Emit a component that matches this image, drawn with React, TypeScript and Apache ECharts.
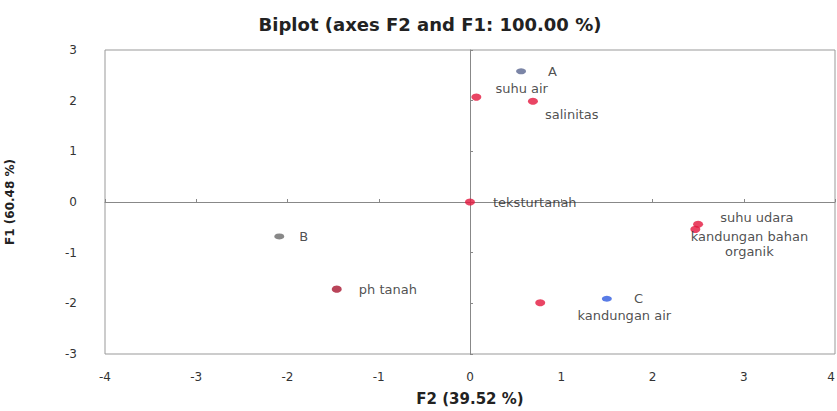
import React, { useEffect, useRef } from "react";
import * as echarts from "echarts";

const titleText = "Biplot (axes F2 and F1: 100.00 %)";
const xAxisName = "F2 (39.52 %)";
const yAxisName = "F1 (60.48 %)";

const obsNames = ["A", "B", "C"];
const obsF2 = [0.56, -2.09, 1.5];
const obsF1 = [2.58, -0.68, -1.91];

const varNames = ["suhu air", "salinitas", "teksturtanah", "ph tanah", "suhu udara", "kandungan bahan organik", "kandungan air"];
const varF2 = [0.07, 0.69, 0, -1.46, 2.5, 2.47, 0.77];
const varF1 = [2.07, 1.99, 0, -1.72, -0.44, -0.54, -1.99];

const FONT = "DejaVu Sans";

const obsColors = ["#5a6690", "#6a6a6a", "#2f5be0"];
const varColors = ["#e3173d", "#e3173d", "#e3173d", "#a8152f", "#e3173d", "#e3173d", "#e3173d"];

const obsLabel: any[] = [
  { position: "right", distance: 22 },
  { position: "right", distance: 15 },
  { position: "right", distance: 22 },
];
const varLabel: any[] = [
  { position: "right", distance: 14, offset: [0, -9] },
  { position: "right", distance: 7, offset: [0, 13] },
  { position: "right", distance: 18 },
  { position: "right", distance: 17 },
  { position: "right", distance: 17, offset: [0, -7] },
  { position: "inside", offset: [54, 15], align: "center", lineHeight: 15, formatter: "kandungan bahan\norganik" },
  { position: "inside", offset: [84, 13], align: "center" },
];

export default function App() {
  const ref = useRef<HTMLDivElement>(null);
  useEffect(() => {
    if (!ref.current) return;
    const chart = echarts.init(ref.current, undefined, { renderer: "svg" });
    const labelBase = { show: true, color: "#222", fontFamily: FONT, fontSize: 13 };
    const zeroAxisCommon = {
      type: "value",
      axisLine: { show: true, onZero: true, lineStyle: { color: "#888" } },
      axisTick: { show: true, length: 3, inside: false, lineStyle: { color: "#888" } },
      axisLabel: { show: false },
      splitLine: { show: false },
    };
    const option: any = {
      animation: false,
      backgroundColor: "#fff",
      title: {
        text: titleText,
        left: 425,
        textAlign: "center",
        top: 10,
        textStyle: { fontFamily: FONT, fontWeight: "bold", fontSize: 18, color: "#222" },
      },
      grid: {
        left: 105,
        top: 50,
        width: 730,
        height: 304,
        outerBoundsMode: "none",
        containLabel: false,
        show: true,
        borderColor: "#999",
        borderWidth: 1,
        backgroundColor: "transparent",
      },
      xAxis: [
        {
          type: "value",
          min: -4,
          max: 4,
          interval: 1,
          position: "bottom",
          axisLine: { show: false, onZero: false },
          axisTick: { show: false },
          splitLine: { show: false },
          axisLabel: {
            color: "#333",
            fontFamily: FONT,
            fontSize: 12,
            margin: 17,
            hideOverlap: false,
            alignMaxLabel: "right",
          },
          name: xAxisName,
          nameLocation: "middle",
          nameGap: 37,
          nameTextStyle: { fontFamily: FONT, fontWeight: "bold", fontSize: 15, color: "#222" },
        },
        { ...zeroAxisCommon, min: -4, max: 4, interval: 1 },
      ],
      yAxis: [
        {
          type: "value",
          min: -3,
          max: 3,
          interval: 1,
          position: "left",
          axisLine: { show: false, onZero: false },
          axisTick: { show: false },
          splitLine: { show: false },
          axisLabel: { color: "#333", fontFamily: FONT, fontSize: 12, margin: 28 },
          name: yAxisName,
          nameLocation: "middle",
          nameGap: 89,
          nameRotate: 90,
          nameTextStyle: { fontFamily: FONT, fontWeight: "bold", fontSize: 12, color: "#222" },
        },
        { ...zeroAxisCommon, min: -3, max: 3, interval: 1 },
      ],
      series: [
        {
          type: "scatter",
          name: "Variables",
          symbol: "circle",
          symbolSize: [10, 7],
          data: varNames.map((n, i) => ({
            name: n,
            value: [varF2[i], varF1[i]],
            itemStyle: { color: varColors[i] },
            label: { ...labelBase, formatter: n, ...varLabel[i] },
          })),
          z: 3,
        },
        {
          type: "scatter",
          name: "Observations",
          symbol: "circle",
          symbolSize: [10, 6],
          data: obsNames.map((n, i) => ({
            name: n,
            value: [obsF2[i], obsF1[i]],
            itemStyle: { color: obsColors[i] },
            label: { ...labelBase, formatter: n, ...obsLabel[i] },
          })),
          z: 4,
        },
      ],
    };
    chart.setOption(option);
    return () => chart.dispose();
  }, []);
  return (
    <div
      ref={ref}
      style={{ position: "absolute", left: 0, top: 0, width: 837, height: 411, background: "#fff" }}
    />
  );
}
